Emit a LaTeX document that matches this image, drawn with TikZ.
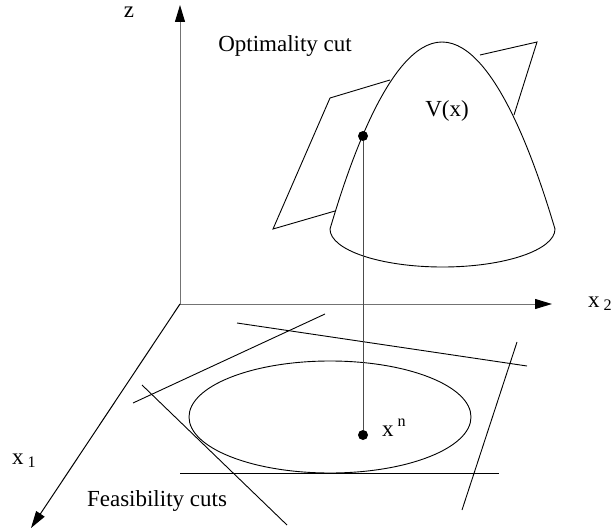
\documentclass[tikz,border=0pt]{standalone}
\usepackage{fontspec}
\setmainfont{Liberation Serif}
\usetikzlibrary{arrows.meta}

\begin{document}
\begin{tikzpicture}[
    x=1pt, y=-1pt,
    axis/.style={line width=1pt, black!55, -{Triangle[length=17pt, width=10pt, color=black]}},
    frontaxis/.style={line width=1pt, black, -{Triangle[length=17pt, width=10pt]}},
    curve/.style={line width=0.9pt, black},
    cut/.style={line width=0.9pt, black, line join=miter},
    point/.style={circle, fill=black, inner sep=0pt, minimum size=10pt},
    lbl/.style={font=\fontsize{23}{28}\selectfont, inner sep=0pt},
    drop/.style={line width=1pt, black!70, dash pattern=on 2.5pt off 0.5pt}
]
\useasboundingbox (0,0) rectangle (615,529);

% === Axes ===
\coordinate (origin) at (180,304);
\coordinate (ztip) at (180,5);
\coordinate (xtwotip) at (552,304);
\coordinate (xonetip) at (31,528);
\draw[axis] (origin) -- (ztip);
\draw[axis] (origin) -- (xtwotip);
\draw[frontaxis] (origin) -- (xonetip);

\node[lbl, anchor=base] (zlbl) at (129,18) {z};
\node[lbl, anchor=base west] (xtwolbl) at (588,307) {x\,\textsubscript{2}};
\node[lbl, anchor=base west] (xonelbl) at (12,464) {x\,\textsubscript{1}};

% === Value function V(x) ===
\draw[curve] (330,229) parabola bend (442,42) (555,229);
\draw[curve] (555,229) arc[start angle=0, end angle=180, x radius=112.5, y radius=38];
\node[lbl, anchor=base] (vlbl) at (447,117) {V(x)};

% === Optimality cut (plane touching V) ===
\draw[cut] (390,80) -- (330,98) -- (273,229) -- (335,211);
\draw[cut] (480,55) -- (537,42) -- (514,115);
\node[lbl, anchor=base] (optlbl) at (285,52) {Optimality cut};

% === Feasible region and feasibility cuts ===
\draw[curve] (330,417) ellipse[x radius=141, y radius=56];
\draw[cut] (237,323) -- (527,366);
\draw[cut] (133,403) -- (325,314);
\draw[cut] (142,385) -- (287,525);
\draw[cut] (180,473) -- (499,473);
\draw[cut] (517,342) -- (462,510);
\node[lbl, anchor=base] (feaslbl) at (157,506) {Feasibility cuts};

% === Current point x^n and its value ===
\node[point] (vdot) at (363,136) {};
\node[point] (xdot) at (363,435) {};
\draw[drop] (vdot) -- (xdot);
\node[lbl, anchor=base west] (xnlbl) at (382,436) {x\,\textsuperscript{n}};

\end{tikzpicture}
\end{document}
